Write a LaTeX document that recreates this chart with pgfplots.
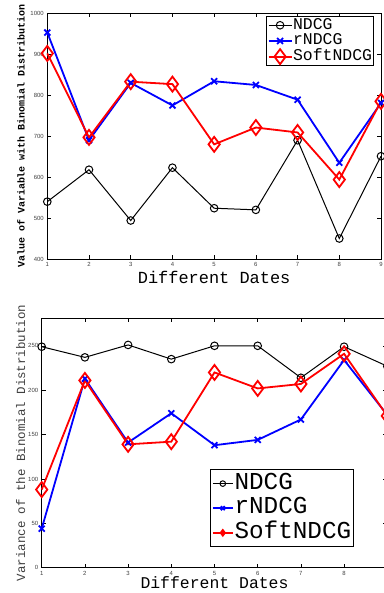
\documentclass[border=0pt]{standalone}
\usepackage{pgfplots}
\pgfplotsset{compat=1.18}
\usepackage{fontspec}
\setmainfont{Liberation Sans}
\newfontfamily\mono{Liberation Mono}
\newfontfamily\lsans{Liberation Sans}
\begin{document}
\begin{tikzpicture}
\path[use as bounding box] (0bp,0bp) rectangle (384bp,593bp);
\pgfplotsset{
  mystyle/.style={
    scale only axis, clip=false,
    xmin=1, xmax=9, xtick={1,...,9},
    tick align=inside, major tick length=4bp,
    axis line style={line width=0.9bp},
    every tick/.style={line width=0.6bp, black},
    ticklabel style={font=\lsans\fontsize{6}{7}\selectfont, text=black!75},
    /pgf/number format/assume math mode=true,
    /pgf/number format/set thousands separator={},
    legend cell align=left,
  },
  sN/.style={black, line width=1bp, mark=o, mark size=3.8bp, mark options={solid, line width=1bp}},
  sR/.style={blue, line width=1.8bp, mark=x, mark size=4.2bp, mark options={solid, line width=1.8bp}},
  sS/.style={red, line width=1.8bp, mark=diamond, mark size=7.5bp, mark options={solid, line width=1.8bp}},
}
% ---------------- top ----------------
\begin{axis}[mystyle,
  width=333.7bp, height=245.7bp,
  at={(47.3bp,334bp)}, anchor=south west,
  ymin=400, ymax=1000, ytick={400,500,...,1000},
  xlabel={Different Dates},
  xlabel style={font=\mono\fontsize{17}{17}\selectfont, at={(axis description cs:0.5,-0.098)}, anchor=base},
  ylabel={Value of Variable with Binomial Distribution},
  ylabel style={font=\mono\bfseries\fontsize{10}{10}\selectfont, at={(axis description cs:-0.079,0.5)}, anchor=center},
  legend style={at={(0.979,0.989)}, anchor=north east, font=\mono\fontsize{16.5}{16.5}\selectfont,
    draw=black, line width=0.8bp, inner xsep=1bp, inner ysep=1bp,
    nodes={inner sep=0.6bp, text height=11bp, text depth=3.5bp}},
  legend image code/.code={\draw[mark repeat=2,mark phase=2,#1] plot coordinates {(0bp,0bp) (11.5bp,0bp) (23bp,0bp)};},
]
\addplot[sN] coordinates {(1,540) (2,618) (3,494) (4,623) (5,524) (6,520) (7,690) (8,450) (9,651)};
\addplot[sR] coordinates {(1,953) (2,690) (3,830) (4,775) (5,834) (6,825) (7,789) (8,635) (9,781)};
\addplot[sS] coordinates {(1,902) (2,697) (3,833) (4,827) (5,680) (6,721) (7,709) (8,594) (9,785)};
\legend{NDCG,rNDCG,SoftNDCG}
\end{axis}
% ---------------- bottom ----------------
\begin{axis}[mystyle,
  width=345.6bp, height=249.4bp,
  at={(41.7bp,25.3bp)}, anchor=south west,
  ymin=0, ymax=281, ytick={0,50,...,250},
  xticklabels={1,2,3,4,5,6,7,8,{}},
  xlabel={Different Dates},
  xlabel style={font=\mono\fontsize{16.5}{16.5}\selectfont, at={(axis description cs:0.5,-0.085)}, anchor=base},
  ylabel={Variance of the Binomial Distribution},
  ylabel style={font=\mono\fontsize{12.5}{12.5}\selectfont, at={(axis description cs:-0.061,0.5)}, anchor=center, text=black!75},
  legend style={at={(0.487,0.083)}, anchor=south west, font=\mono\fontsize{24.4}{24.4}\selectfont,
    draw=black, line width=0.8bp, inner xsep=1.5bp, inner ysep=1.5bp,
    nodes={inner sep=0.8bp, text height=17bp, text depth=6bp}},
  legend image code/.code={\draw[mark repeat=2,mark phase=2,#1] plot coordinates {(0bp,0bp) (10bp,0bp) (20bp,0bp)};},
  legend image post style={mark size=2.8bp},
]
\addplot[sN] coordinates {(1,249) (2,237) (3,251) (4,235) (5,250) (6,250) (7,214) (8,249) (9,227)};
\addplot[sR] coordinates {(1,44) (2,213) (3,141) (4,174) (5,138) (6,144) (7,167) (8,234) (9,172)};
\addplot[sS] coordinates {(1,88) (2,211) (3,139) (4,142) (5,220) (6,202) (7,207) (8,241) (9,171)};
\legend{NDCG,rNDCG,SoftNDCG}
\end{axis}
\end{tikzpicture}
\end{document}
